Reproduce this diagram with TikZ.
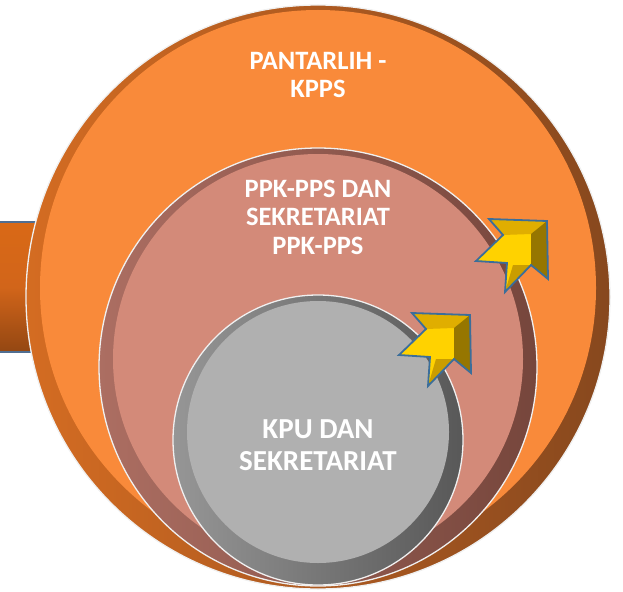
\documentclass[tikz,border=0pt]{standalone}
\usepackage{fontspec}
\setmainfont{Carlito}
\usepackage{tikz}
\usetikzlibrary{calc}
\usepackage{xcolor}
\definecolor{orangefill}{RGB}{249,138,58}
\definecolor{orangerimL}{RGB}{212,108,34}
\definecolor{orangerimR}{RGB}{135,72,30}
\definecolor{pinkfill}{RGB}{211,138,121}
\definecolor{pinkrimL}{RGB}{172,110,98}
\definecolor{pinkrimR}{RGB}{118,70,60}
\definecolor{grayfill}{RGB}{176,176,176}
\definecolor{grayrimL}{RGB}{150,150,150}
\definecolor{grayrimR}{RGB}{88,88,88}
\definecolor{barfill}{RGB}{210,101,26}
\definecolor{baredge}{RGB}{80,110,145}
\definecolor{arrowedge}{RGB}{59,110,154}
\definecolor{arrowyellow}{RGB}{255,210,0}
\definecolor{arrowgold}{RGB}{224,174,0}
\definecolor{arrowdark}{RGB}{150,118,0}
\tikzset{
  ringtext/.style={text=white, align=center, font=\bfseries\fontsize{26.5}{28.5}\selectfont},
  rimline/.style={draw=white!88!gray, line width=1.3pt}
}

\begin{document}
\begin{tikzpicture}[x=1pt, y=-1pt]
		\useasboundingbox (0,0) rectangle (623,591);
		% left bar
		\scope
			\draw[baredge, line width=1.2pt, top color=barfill!85!orange, bottom color=barfill!70!black, middle color=barfill] (-2,222) rectangle (80,352);
		\endscope
		% outer circle
		\scope
			\shade[left color=orangerimL, right color=orangerimR] (318,297) circle[radius=292pt];
			\fill[orangefill] (318,288) circle[radius=278pt];
			\draw[rimline] (318,297) circle[radius=292pt];
		\endscope
		% middle circle
		\scope
			\shade[left color=pinkrimL, right color=pinkrimR] (318,367) circle[radius=219pt];
			\fill[pinkfill] (318,359) circle[radius=205pt];
			\draw[rimline] (318,367) circle[radius=219pt];
		\endscope
		% inner circle
		\scope
			\shade[left color=grayrimL, right color=grayrimR] (318,440) circle[radius=145pt];
			\fill[grayfill] (318,432) circle[radius=131pt];
			\draw[rimline] (318,440) circle[radius=145pt];
		\endscope
		% arrows
		\foreach \tx/\ty in {470/315, 547/221}{
			\scope[shift={(\tx,\ty)}]
				\fill[arrowyellow] (0,0) -- (1,58) -- (-16,44) -- (-42,71) -- (-40,42) -- (-71,40) -- (-44,14) -- (-58,-2) -- cycle;
				\fill[arrowgold] (-58,-2) -- (0,0) -- (-16,13) -- (-44,14) -- cycle;
				\fill[arrowdark] (0,0) -- (1,58) -- (-16,44) -- (-16,13) -- cycle;
				\fill[arrowgold!90!black] (-16,44) -- (-42,71) -- (-34,44) -- cycle;
				\draw[arrowedge, line width=1.8pt, line join=miter] (0,0) -- (1,58) -- (-16,44) -- (-42,71) -- (-40,42) -- (-71,40) -- (-44,14) -- (-58,-2) -- cycle;
			\endscope
		}
		% labels
		\node[ringtext] (pantarlih) at (318,75) {PANTARLIH -\\KPPS};
		\node[ringtext] (ppkpps) at (318,217) {PPK-PPS DAN\\SEKRETARIAT\\PPK-PPS};
		\node[ringtext, font=\bfseries\fontsize{29}{32.5}\selectfont] (kpu) at (318,445) {KPU DAN\\SEKRETARIAT};
\end{tikzpicture}
\end{document}
